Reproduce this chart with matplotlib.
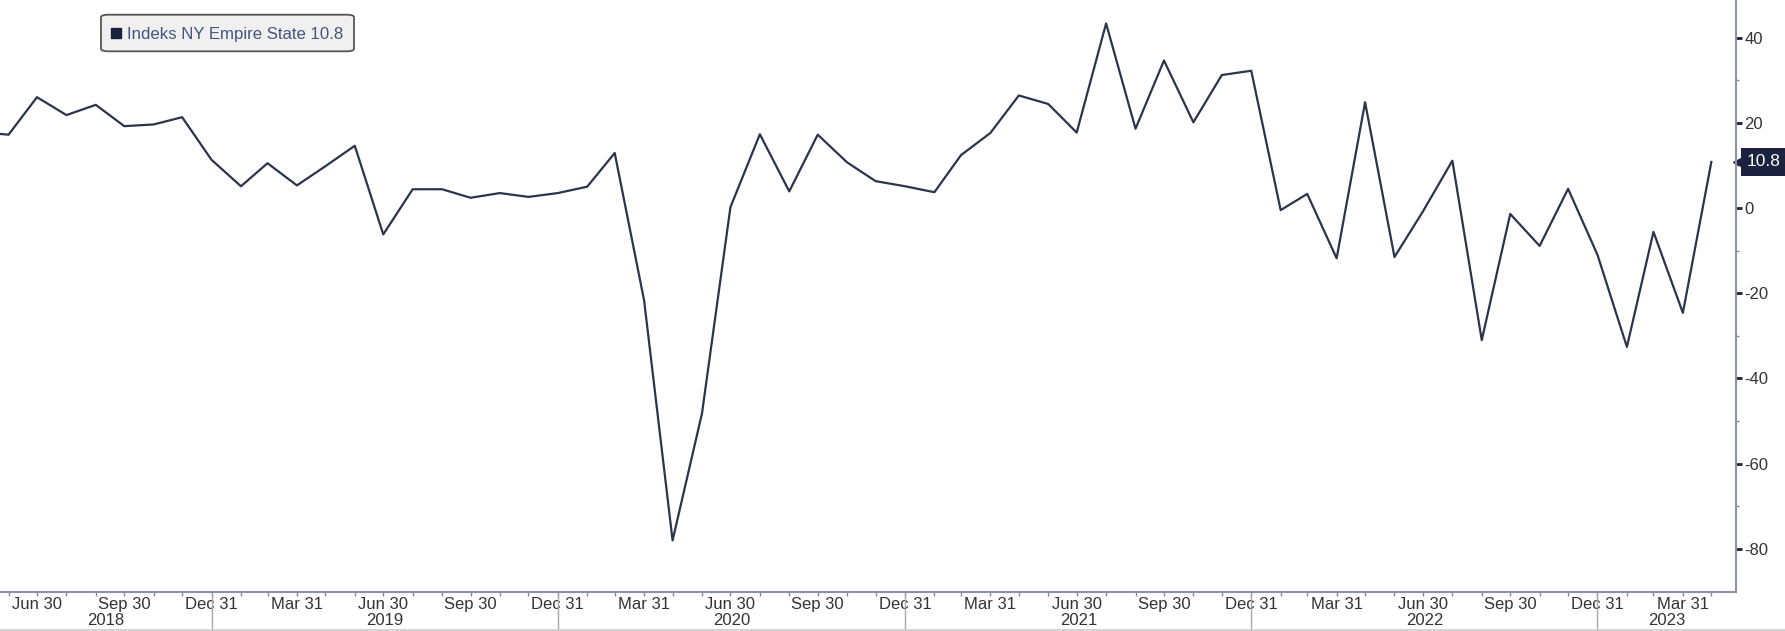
import matplotlib.pyplot as plt
import matplotlib.dates as mdates
import matplotlib.transforms as mtransforms
from matplotlib.patches import FancyBboxPatch
from matplotlib.lines import Line2D
import pandas as pd

plt.rcParams['font.family'] = ['Liberation Sans', 'DejaVu Sans']
plt.rcParams['axes.unicode_minus'] = False

# monthly values, Apr 2018 .. Apr 2023 (month-end dates)
months = pd.date_range('2018-04-30', '2023-04-30', freq='ME')
values = [17.8, 17.2, 26.0, 21.8, 24.2, 19.2, 19.6, 21.3, 11.3,
          5.1, 10.5, 5.3, 9.8, 14.6, -6.2, 4.4, 4.4, 2.4, 3.5, 2.6, 3.5,
          5.0, 12.9, -21.7, -78.0, -48.2, 0.2, 17.3, 3.9, 17.2, 10.7, 6.3, 5.1,
          3.7, 12.4, 17.6, 26.4, 24.4, 17.7, 43.3, 18.6, 34.6, 20.1, 31.2, 32.2,
          -0.5, 3.3, -11.8, 24.8, -11.5, -0.8, 11.1, -31.0, -1.4, -8.9, 4.5, -11.0,
          -32.6, -5.6, -24.6, 10.8]
last_value = 10.8
legend_label = 'Indeks NY Empire State 10.8'
years = [2018, 2019, 2020, 2021, 2022, 2023]
y_major = [-80, -60, -40, -20, 0, 20, 40]
y_minor = [-70, -50, -30, -10, 10, 30]

x_start = pd.Timestamp('2018-05-22')
x_end = pd.Timestamp('2023-05-26')

NAVY = '#1b2240'
LINE = '#2c344d'
SPINE = '#8c91a8'
TXT = '#333333'

W, H = 1785, 631
fig = plt.figure(figsize=(W / 100, H / 100), dpi=100)
ax = fig.add_axes([0, 39 / H, 1736 / W, 592 / H])

ax.plot(months, values, color=LINE, lw=1.6)
ax.set_xlim(x_start, x_end)
ax.set_ylim(-90.1, 48.8)

for s in ['top', 'left']:
    ax.spines[s].set_visible(False)
for s in ['right', 'bottom']:
    ax.spines[s].set_color(SPINE)
    ax.spines[s].set_linewidth(1.5)

# y axis on the right
ax.yaxis.tick_right()
ax.set_yticks(y_major)
ax.set_yticks(y_minor, minor=True)
ax.tick_params(axis='y', which='major', length=4, width=2, color=NAVY,
               labelsize=12, labelcolor=TXT, pad=2)
ax.tick_params(axis='y', which='minor', length=2, width=1, color='#888888')

# x axis: ticks at month ends, labels at quarter ends
ticks = pd.date_range('2018-01-31', '2023-12-31', freq='ME')
ticks = [t for t in ticks if x_start <= t <= x_end]
qticks = [t for t in ticks if t.month in (3, 6, 9, 12)]
ax.set_xticks(qticks)
ax.set_xticks(ticks, minor=True)
ax.xaxis.set_major_formatter(mdates.DateFormatter('%b %d'))
ax.tick_params(axis='x', which='both', length=3, width=1, color='#888888',
               labelsize=12, labelcolor=TXT, pad=0.5)

# year labels and separators
trans = mtransforms.blended_transform_factory(ax.transData, ax.transAxes)
for yr in years:
    a = max(pd.Timestamp(f'{yr}-01-01'), x_start)
    b = min(pd.Timestamp(f'{yr}-12-31'), x_end)
    mid = a + (b - a) / 2
    ax.text(mid, -0.0485, str(yr), transform=trans, ha='center', va='center',
            fontsize=12, color=TXT)
    sep = pd.Timestamp(f'{yr}-12-31')
    if x_start < sep < x_end:
        ax.plot([sep, sep], [0, -39 / 592], transform=trans, clip_on=False,
                color='#a8a8a8', lw=1)

fig.add_artist(Line2D([0, 1], [0.8 / H, 0.8 / H], color='#cccccc', lw=1.2))

# last value tag
tt = mtransforms.blended_transform_factory(ax.transAxes, ax.transData)
ax.plot([1.002], [last_value], marker='<', ms=9, color=NAVY, transform=tt,
        clip_on=False)
ax.text(1.0062, last_value, f'{last_value}', transform=tt, ha='left', va='center',
        fontsize=12.5, color='white',
        bbox=dict(boxstyle='square,pad=0.35', fc=NAVY, ec='none'))

# legend box
box = FancyBboxPatch((101 / W, 1 - 51.3 / H), 253 / W, 36.6 / H,
                     boxstyle='round,pad=0,rounding_size=0.004',
                     transform=fig.transFigure, fc='#f0f0f0', ec='#555555', lw=1.3)
fig.add_artist(box)
fig.add_artist(Line2D([116.3 / W], [1 - 32.8 / H], marker='s', ms=7.6,
                      color=NAVY, transform=fig.transFigure))
fig.text(126.7 / W, 1 - 39.2 / H, legend_label, ha='left', va='baseline',
         fontsize=12.1, color='#46547e')

fig.savefig('out.png', dpi=100)
